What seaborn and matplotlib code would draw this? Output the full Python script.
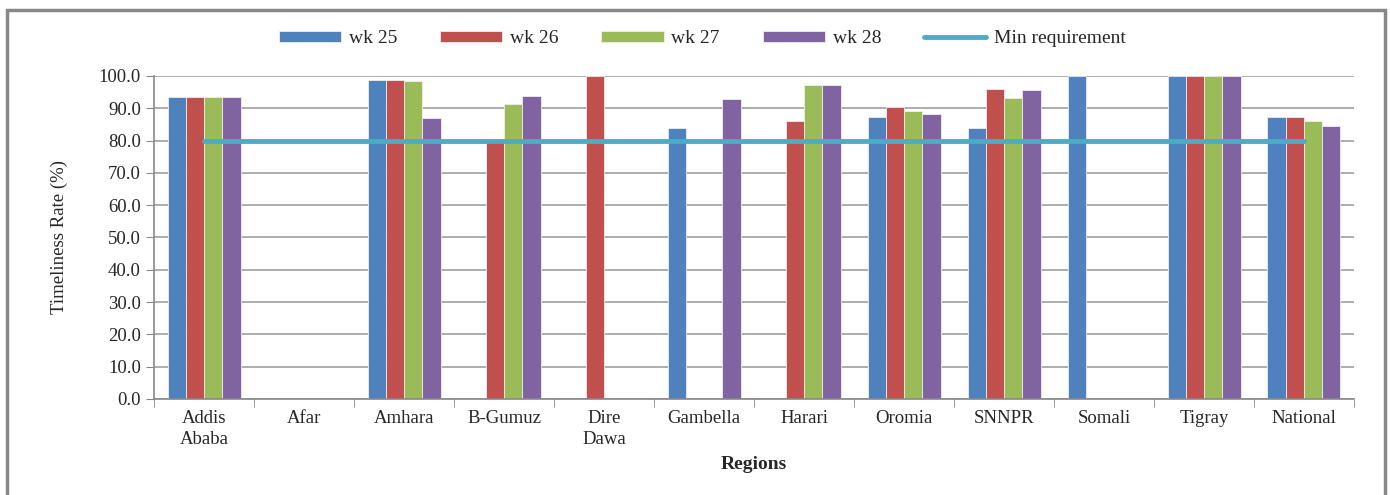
import numpy as np
import pandas as pd
import seaborn as sns
import matplotlib.pyplot as plt
from matplotlib.patches import Rectangle

regions = ['Addis\nAbaba', 'Afar', 'Amhara', 'B-Gumuz', 'Dire\nDawa', 'Gambella',
           'Harari', 'Oromia', 'SNNPR', 'Somali', 'Tigray', 'National']
wk25 = [93.5, np.nan, 98.9, np.nan, np.nan, 84.0, np.nan, 87.4, 84.0, 100.0, 100.0, 87.4]
wk26 = [93.5, np.nan, 98.9, 79.5, 100.0, np.nan, 86.2, 90.4, 96.0, np.nan, 100.0, 87.4]
wk27 = [93.5, np.nan, 98.5, 91.2, np.nan, np.nan, 97.3, 89.2, 93.2, np.nan, 100.0, 86.1]
wk28 = [93.5, np.nan, 87.1, 93.9, np.nan, 92.9, 97.3, 88.3, 95.7, np.nan, 100.0, 84.6]
min_req = [80.0] * len(regions)
weeks = ['wk 25', 'wk 26', 'wk 27', 'wk 28']
colors = ['#4F81BD', '#C0504D', '#9BBB59', '#8064A2']

df = pd.DataFrame({'Region': regions * 4,
                   'Week': np.repeat(weeks, len(regions)),
                   'Rate': wk25 + wk26 + wk27 + wk28})
df = df.dropna()

sns.set_style('white')
plt.rcParams['font.family'] = ['Liberation Serif', 'DejaVu Serif']

fig = plt.figure(figsize=(13.9, 4.95), dpi=100)
ax = fig.add_axes([0.1108, 0.194, 0.8633, 0.6525])

sns.barplot(data=df, x='Region', y='Rate', hue='Week', order=regions, hue_order=weeks,
            palette=colors, width=0.73, errorbar=None, edgecolor='#eeeeee', linewidth=0.6,
            saturation=1, ax=ax)
ax.plot(np.arange(len(regions)), min_req, color='#4BACC6', lw=3.5, label='Min requirement', zorder=5)

ax.set_xlim(-0.5, len(regions) - 0.5)
ax.set_ylim(0, 100)
ax.set_yticks(np.arange(0, 101, 10))
ax.set_yticklabels([f'{v:.1f}' for v in np.arange(0, 101, 10)], fontsize=13.5)
ax.yaxis.grid(True, color='#a0a0a0', lw=1.2)
ax.set_axisbelow(True)
ax.set_xticks(np.arange(len(regions)))
ax.set_xticklabels(regions, fontsize=13.5, linespacing=1.3)
ax.set_xticks(np.arange(-0.5, len(regions)), minor=True)
ax.tick_params(axis='x', which='major', length=0, pad=8)
ax.tick_params(axis='x', which='minor', length=6, color='#888888', direction='out', bottom=True)
ax.tick_params(axis='y', length=6, color='#888888', direction='out', left=True)
for s in ['top', 'right']:
    ax.spines[s].set_visible(False)
for s in ['left', 'bottom']:
    ax.spines[s].set_color('#888888')
    ax.spines[s].set_linewidth(1.2)

ax.set_ylabel('Timeliness Rate (%)', fontsize=13.5, labelpad=22)
ax.set_xlabel('Regions', fontsize=14, fontweight='bold', labelpad=6)

handles, labels = ax.get_legend_handles_labels()
ax.legend(handles, labels, loc='center', bbox_to_anchor=(0.457, 1.115), ncol=5, frameon=False,
          fontsize=14, handlelength=3.2, handleheight=0.5, columnspacing=2.2, handletextpad=0.4)

fig.patches.append(Rectangle((7 / 1390, -0.05), 1378 / 1390, 1.05 - 10 / 495, transform=fig.transFigure,
                             fill=False, edgecolor='#888888', lw=2.5, zorder=10))

fig.savefig('out.png', dpi=100)
